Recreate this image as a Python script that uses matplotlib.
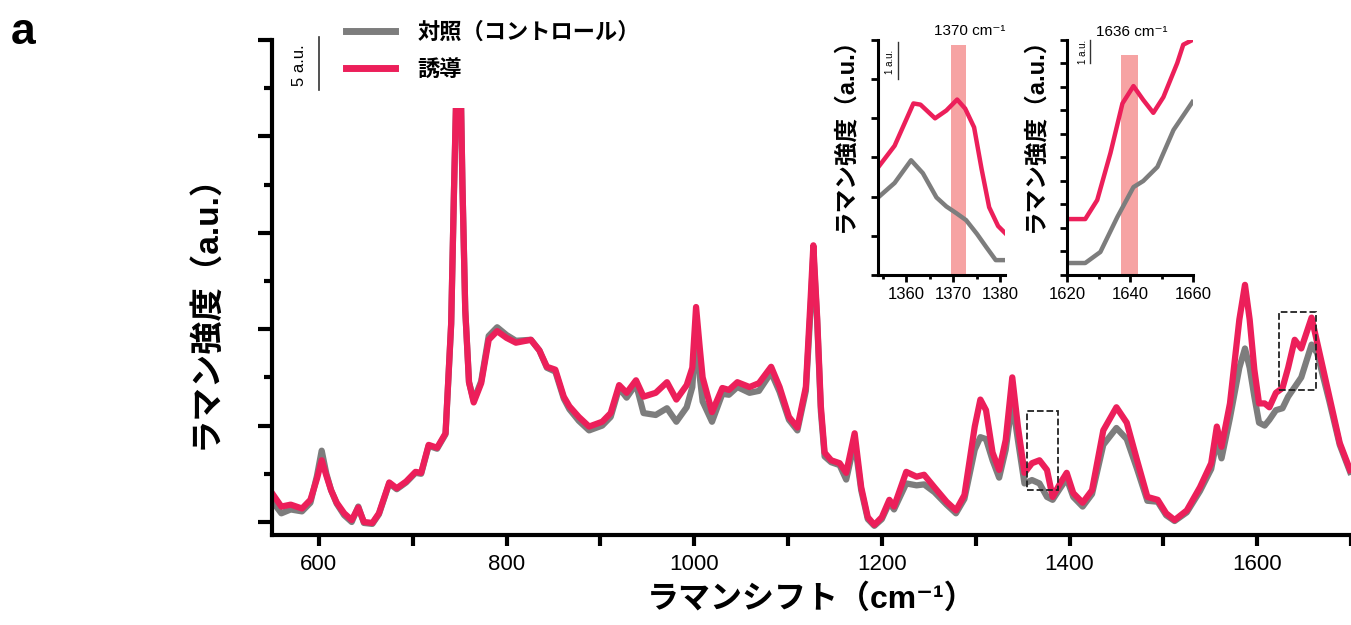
import numpy as np
import matplotlib
matplotlib.use('Agg')
import matplotlib.pyplot as plt
from matplotlib.lines import Line2D
from matplotlib.patches import Rectangle
from matplotlib.ticker import MultipleLocator

plt.rcParams['font.family'] = ['Liberation Sans', 'Noto Sans CJK JP', 'DejaVu Sans']

RED = '#ec1f5a'
GRAY = '#7d7d7d'

# main spectrum (cm-1, a.u.)
shift = [550, 560, 570, 582, 591, 598, 603, 608, 613, 619, 627, 635, 642, 648, 657, 664,
         675, 683, 693, 703, 709, 717, 726, 735, 741, 744, 747, 750, 753, 756, 760, 765,
         773, 781, 790, 800, 810, 826, 835, 843, 852, 861, 867, 877, 888, 902, 911, 920,
         928, 938, 946, 959, 971, 981, 992, 998, 1002, 1006, 1009, 1019, 1030, 1037, 1046,
         1059, 1069, 1082, 1091, 1101, 1110, 1119, 1124, 1127, 1131, 1135, 1139, 1146, 1155,
         1162, 1171, 1178, 1185, 1192, 1200, 1208, 1213, 1226, 1237, 1245, 1256, 1269, 1279,
         1288, 1299, 1305, 1311, 1318, 1325, 1332, 1339, 1345, 1352, 1360, 1368, 1376, 1382,
         1390, 1397, 1404, 1414, 1424, 1436, 1450, 1461, 1472, 1483, 1494, 1503, 1512, 1525,
         1539, 1551, 1557, 1562, 1571, 1581, 1587, 1592, 1597, 1602, 1608, 1613, 1620, 1627,
         1633, 1640, 1647, 1658, 1664, 1677, 1688, 1699]

induced = [3.0, 1.6, 1.8, 1.4, 2.3, 4.5, 6.4, 4.8, 3.3, 2.0, 0.9, 0.2, 1.5, 0.0, -0.1, 0.9,
           4.1, 3.5, 4.2, 5.2, 5.1, 8.0, 7.7, 9.2, 20.6, 34.4, 47.0, 52.0, 35.0, 22.0, 14.5, 12.4,
           14.4, 18.9, 19.8, 19.1, 18.6, 18.9, 17.8, 16.1, 15.8, 13.0, 12.0, 10.9, 9.9, 10.4, 11.3, 14.2,
           13.4, 14.7, 13.0, 13.4, 14.5, 12.7, 14.2, 16.0, 22.3, 18.0, 15.0, 11.4, 13.9, 13.7, 14.5,
           14.0, 14.4, 16.1, 14.0, 10.9, 9.8, 14.0, 23.0, 28.7, 21.3, 12.0, 7.2, 6.4, 6.1,
           5.1, 9.2, 3.6, 0.5, -0.3, 0.5, 2.3, 1.6, 5.2, 4.7, 4.9, 3.6, 2.1, 1.2,
           2.8, 9.9, 12.7, 11.6, 7.2, 5.4, 8.5, 15.0, 9.9, 5.1, 6.1, 6.4, 5.4, 2.6,
           4.0, 5.1, 3.0, 2.0, 3.3, 9.5, 11.9, 10.3, 6.4, 2.6, 2.3, 0.9, 0.2, 1.2,
           3.6, 6.1, 9.9, 7.8, 12.3, 21.0, 24.6, 21.0, 15.8, 12.3, 12.3, 11.9, 13.4, 13.9,
           16.0, 18.9, 18.0, 21.2, 18.6, 13.0, 8.2, 5.4]

control = [2.2, 0.9, 1.3, 1.1, 2.0, 4.8, 7.4, 5.0, 3.3, 1.9, 0.7, 0.0, 1.6, -0.1, -0.2, 0.8,
           4.0, 3.4, 4.1, 5.1, 5.0, 7.9, 7.6, 9.1, 20.5, 34.3, 46.5, 52.0, 35.0, 22.0, 14.5, 12.6,
           14.6, 19.3, 20.2, 19.4, 18.8, 18.9, 17.8, 16.0, 15.6, 12.8, 11.7, 10.5, 9.5, 10.0, 10.9, 13.9,
           12.9, 14.3, 11.3, 11.1, 11.8, 10.4, 11.9, 14.0, 20.0, 15.0, 12.5, 10.4, 13.3, 13.2, 14.0,
           13.4, 13.6, 15.5, 13.5, 10.6, 9.5, 13.6, 22.0, 28.0, 21.0, 11.5, 6.8, 6.2, 5.9,
           4.4, 8.3, 3.3, 0.3, -0.4, 0.3, 2.0, 1.3, 4.0, 3.8, 3.9, 3.1, 1.8, 0.9,
           2.4, 7.5, 8.8, 8.6, 6.4, 4.6, 7.5, 12.5, 8.5, 4.0, 4.35, 4.0, 2.6, 2.3,
           3.5, 4.5, 2.6, 1.6, 2.9, 8.0, 9.75, 8.6, 5.5, 2.2, 2.1, 0.7, 0.1, 1.0,
           3.2, 5.5, 8.5, 6.6, 10.8, 16.0, 18.0, 16.0, 13.0, 10.3, 10.0, 10.6, 11.6, 11.8,
           13.0, 14.0, 15.0, 18.4, 17.5, 12.5, 8.0, 5.2]

# inset around 1370 cm-1
ins1_x = [1354, 1357.5, 1361.5, 1363, 1366.1, 1368.5, 1370.8, 1372.5, 1374.4, 1376, 1377.6, 1379.5, 1381]
ins1_induced = [2.75, 3.3, 4.38, 4.35, 4.0, 4.2, 4.48, 4.25, 3.77, 2.7, 1.73, 1.25, 1.07]
ins1_cx = [1354, 1357.5, 1361.0, 1363.5, 1366.4, 1368.5, 1370.6, 1372.7, 1375, 1377, 1379, 1381]
ins1_control = [1.98, 2.35, 2.93, 2.6, 1.98, 1.75, 1.58, 1.4, 1.05, 0.71, 0.38, 0.38]

# inset around 1636 cm-1
ins2_x = [1620, 1625.7, 1629.5, 1633.7, 1637.5, 1641, 1644.1, 1647.3, 1650.5, 1654.9, 1656.8, 1659.7]
ins2_induced = [2.38, 2.38, 3.19, 5.19, 7.3, 8.04, 7.45, 6.9, 7.57, 9.02, 9.8, 10.0]
ins2_cx = [1620, 1625.7, 1630.5, 1635.9, 1641, 1644.1, 1648.6, 1653.7, 1659.7]
ins2_control = [0.51, 0.51, 0.98, 2.47, 3.74, 4.0, 4.6, 6.17, 7.36]

labels = ['対照（コントロール）', '誘導']

fig = plt.figure(figsize=(13.51, 6.25), dpi=100)
ax = fig.add_axes([0.2013, 0.144, 0.7987, 0.792])

ax.plot(shift, control, color=GRAY, lw=4.5, solid_joinstyle='round', zorder=2)
ax.plot(shift, induced, color=RED, lw=4.5, solid_joinstyle='round', zorder=2.1)

ax.set_xlim(550, 1700)
ax.set_ylim(-1.35, 50)
ax.xaxis.set_major_locator(MultipleLocator(200))
ax.xaxis.set_minor_locator(MultipleLocator(100))
ax.yaxis.set_major_locator(MultipleLocator(10))
ax.yaxis.set_minor_locator(MultipleLocator(5))
for s in ['top', 'right']:
    ax.spines[s].set_visible(False)
for s in ['left', 'bottom']:
    ax.spines[s].set_linewidth(3)
ax.tick_params(axis='x', which='major', length=8, width=3, labelsize=16, pad=6)
ax.tick_params(axis='x', which='minor', length=8, width=3)
ax.tick_params(axis='y', which='major', length=10, width=3)
ax.tick_params(axis='y', which='minor', length=6, width=3)
ax.tick_params(axis='y', labelleft=False)

# dashed boxes marking the inset regions
ax.add_patch(Rectangle((1355, 3.3), 33, 8.2, fill=False, ls='--', lw=1.3, ec='#222222', zorder=3))
ax.add_patch(Rectangle((1623.5, 13.7), 39.5, 8.1, fill=False, ls='--', lw=1.3, ec='#222222', zorder=3))

# white area behind legend (clips top of 750 peak)
ax.add_patch(Rectangle((0.054, 0.863), 0.18, 0.25, transform=ax.transAxes, fc='white', ec='none',
                       clip_on=False, zorder=3))

# scale bar
ax.plot([600, 600], [44.8, 50.3], color='#333333', lw=1.2, clip_on=False, zorder=4)
ax.text(579, 47.4, '5 a.u.', rotation=90, ha='center', va='center', fontsize=12, zorder=4)

handles = [Line2D([], [], color=GRAY, lw=5), Line2D([], [], color=RED, lw=5)]
leg = ax.legend(handles, labels, loc='upper left', bbox_to_anchor=(0.24, 1.0),
                bbox_transform=fig.transFigure, frameon=False, handlelength=2.2,
                handletextpad=1.0, labelspacing=0.75, borderaxespad=0.6,
                prop={'size': 16, 'weight': 'bold'})
leg.set_zorder(5)

ax.set_xlabel('ラマンシフト（cm⁻¹）', fontsize=23, fontweight='bold', labelpad=6)
fig.text(0.152, 0.515, 'ラマン強度（a.u.）', rotation=90, ha='center', va='center',
         fontsize=24, fontweight='bold')
fig.text(0.008, 0.948, 'a', fontsize=32, fontweight='bold', ha='left', va='center')


def style_inset(a):
    for s in ['top', 'right']:
        a.spines[s].set_visible(False)
    for s in ['left', 'bottom']:
        a.spines[s].set_linewidth(2.2)
    a.tick_params(which='major', length=5, width=2, labelsize=12)
    a.tick_params(which='minor', length=3, width=2)
    a.tick_params(axis='y', labelleft=False)
    a.patch.set_alpha(0)


# inset 1
a1 = fig.add_axes([0.650, 0.56, 0.094, 0.376])
a1.axvspan(1369.5, 1372.7, ymax=0.98, color='#f6a3a3', lw=0, zorder=1)
a1.plot(ins1_cx, ins1_control, color=GRAY, lw=3.2, solid_joinstyle='round', zorder=2)
a1.plot(ins1_x, ins1_induced, color=RED, lw=3.2, solid_joinstyle='round', zorder=2.1)
a1.set_xlim(1354, 1381)
a1.set_ylim(0, 6)
a1.xaxis.set_major_locator(MultipleLocator(10))
a1.xaxis.set_minor_locator(MultipleLocator(5))
a1.yaxis.set_major_locator(MultipleLocator(1))
style_inset(a1)
a1.plot([1358.2, 1358.2], [5.0, 5.95], color='#333333', lw=1, clip_on=False)
a1.text(1356.6, 5.45, '1 a.u.', rotation=90, ha='center', va='center', fontsize=7)
a1.text(1373.4, 6.05, '1370 cm⁻¹', ha='center', va='bottom', fontsize=11)
a1.set_ylabel('ラマン強度（a.u.）', fontsize=17, fontweight='bold')
a1.yaxis.set_label_coords(-0.17, 0.62)

# inset 2
a2 = fig.add_axes([0.790, 0.56, 0.0933, 0.376])
a2.axvspan(1637.0, 1642.5, ymax=0.936, color='#f6a3a3', lw=0, zorder=1)
a2.plot(ins2_cx, ins2_control, color=GRAY, lw=3.2, solid_joinstyle='round', zorder=2)
a2.plot(ins2_x, ins2_induced, color=RED, lw=3.2, solid_joinstyle='round', zorder=2.1)
a2.set_xlim(1620, 1660)
a2.set_ylim(0, 10)
a2.xaxis.set_major_locator(MultipleLocator(20))
a2.xaxis.set_minor_locator(MultipleLocator(10))
a2.yaxis.set_major_locator(MultipleLocator(1))
style_inset(a2)
a2.plot([1627.3, 1627.3], [9.0, 10.0], color='#333333', lw=1, clip_on=False)
a2.text(1625.0, 9.5, '1 a.u.', rotation=90, ha='center', va='center', fontsize=7)
a2.text(1640.5, 10.05, '1636 cm⁻¹', ha='center', va='bottom', fontsize=11)
a2.set_ylabel('ラマン強度（a.u.）', fontsize=17, fontweight='bold')
a2.yaxis.set_label_coords(-0.17, 0.62)

fig.savefig('out.png', dpi=100)
